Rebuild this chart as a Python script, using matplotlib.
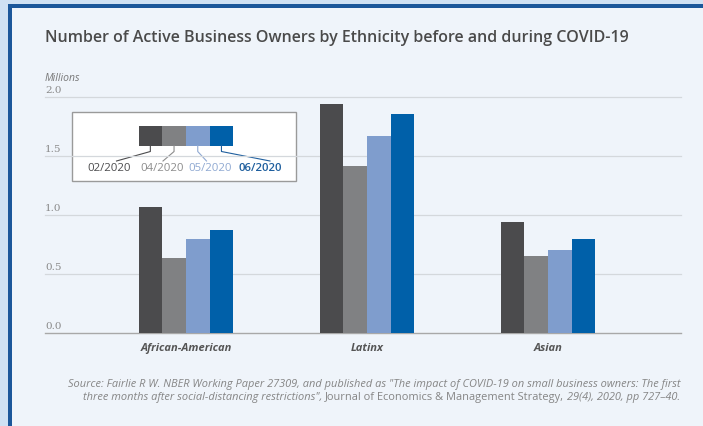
"""Grouped bar chart: active business owners by ethnicity, before and during COVID-19."""

import matplotlib.pyplot as plt
import numpy as np
from matplotlib.patches import Rectangle

# data (millions)
groups = ['African-American', 'Latinx', 'Asian']
periods = ['02/2020', '04/2020', '05/2020', '06/2020']
owners_0220 = [1.07, 1.94, 0.94]
owners_0420 = [0.635, 1.415, 0.65]
owners_0520 = [0.80, 1.67, 0.70]
owners_0620 = [0.87, 1.855, 0.80]
yticks = [0.0, 0.5, 1.0, 1.5, 2.0]

bar_colors = ['#4b4b4d', '#808183', '#7f9dcd', '#0060a9']
label_colors = ['#4b4b4d', '#8c8c8c', '#8fa9d2', '#1f5f9e']
panel_bg = '#eff4fa'
outer_bg = '#cfe1f3'
frame_col = '#1b579a'

W, H = 703, 426
plt.rcParams['font.family'] = ['Open Sans', 'DejaVu Sans']

fig = plt.figure(figsize=(W / 100, H / 100), dpi=100)
fig.patch.set_facecolor(outer_bg)

# background panel + frame, drawn in pixel coords on an overlay axes
bg = fig.add_axes([0, 0, 1, 1], zorder=0)
bg.set_xlim(0, W)
bg.set_ylim(H, 0)
bg.axis('off')
bg.add_patch(Rectangle((8, 4), W, H, facecolor=panel_bg, edgecolor='none'))
bg.add_patch(Rectangle((8, 4), 3.5, H, facecolor=frame_col, edgecolor='none'))
bg.add_patch(Rectangle((8, 4), W, 3.5, facecolor=frame_col, edgecolor='none'))

# main axes
x0, x1, ytop, ybot = 45, 681, 97, 333
ax = fig.add_axes([x0 / W, (H - ybot) / H, (x1 - x0) / W, (ybot - ytop) / H], zorder=1)
ax.set_facecolor('none')

series = [owners_0220, owners_0420, owners_0520, owners_0620]
x = np.arange(len(groups))
width = 0.13
for i, vals in enumerate(series):
    ax.bar(x + (i - 1.5) * width, vals, width, color=bar_colors[i], zorder=3)

ax.set_xlim(-0.779, 2.735)
ax.set_ylim(0, 2.0)
for s in ax.spines.values():
    s.set_visible(False)
ax.set_xticks([])
ax.set_yticks([])

for t in yticks:
    ax.axhline(t, color='#a8a8a8' if t == 0 else '#d4d8dc', lw=1.0 if t == 0 else 0.9,
               clip_on=False, zorder=1)
    ax.text(0.0, t + 0.02, f'{t:.1f}', transform=ax.get_yaxis_transform(),
            ha='left', va='bottom', fontsize=7.5, color='#8a8a8a', family='DejaVu Serif')
ax.text(0.0, 2.11, 'Millions', transform=ax.get_yaxis_transform(), ha='left', va='bottom',
        fontsize=7.5, style='italic', color='#777777')

for xi, g in zip(x, groups):
    ax.text(xi, -0.085, g, ha='center', va='top', fontsize=8, fontweight='bold',
            style='italic', color='#555555')

# title
bg.text(45, 38.5, 'Number of Active Business Owners by Ethnicity before and during COVID-19',
        ha='left', va='center', fontsize=11.55, fontweight='semibold', color='#4a4a4a')

# legend box with colour swatches and connector lines
bg.add_patch(Rectangle((72, 112), 224, 69, facecolor='white', edgecolor='#9a9a9a',
                       lw=1.0, zorder=2))
sw_x, sw_w, sw_top, sw_bot = 138.5, 23.7, 126, 145.5
label_x = [109, 161.7, 210, 260]
end_x = [116.5, 163, 206.5, 270]
for i, p in enumerate(periods):
    bg.add_patch(Rectangle((sw_x + i * sw_w, sw_top), sw_w, sw_bot - sw_top,
                           facecolor=bar_colors[i], edgecolor='none', zorder=3))
    cx = sw_x + (i + 0.5) * sw_w
    bg.plot([cx, cx, end_x[i]], [sw_bot, 151.5, 161], color=label_colors[i],
            lw=0.8, zorder=3)
    bg.text(label_x[i], 168.5, p, ha='center', va='center', fontsize=8.2,
            color=label_colors[i], fontweight='semibold' if i == 3 else 'normal', zorder=3)

# source note, right aligned, mixed italic / upright
src_col = '#858585'
src_fs = 7.9
src1 = ('Source: Fairlie R W. NBER Working Paper 27309, and published as "The impact of '
        'COVID-19 on small business owners: The first')
bg.text(680, 385, src1, ha='right', va='center', fontsize=src_fs, style='italic', color=src_col)

fig.canvas.draw()
renderer = fig.canvas.get_renderer()
inv = bg.transData.inverted()
pieces = [('three months after social-distancing restrictions", ', 'italic'),
          ('Journal of Economics & Management Strategy, ', 'normal'),
          ('29(4), 2020, pp 727\u201340.', 'italic')]
right = 680
for txt, st in reversed(pieces):
    t = bg.text(right, 397.5, txt, ha='right', va='center', fontsize=src_fs, style=st,
                color=src_col)
    bb = t.get_window_extent(renderer)
    right = inv.transform((bb.x0, bb.y0))[0]

fig.savefig('out.png', dpi=100, facecolor=fig.get_facecolor())
plt.close(fig)
